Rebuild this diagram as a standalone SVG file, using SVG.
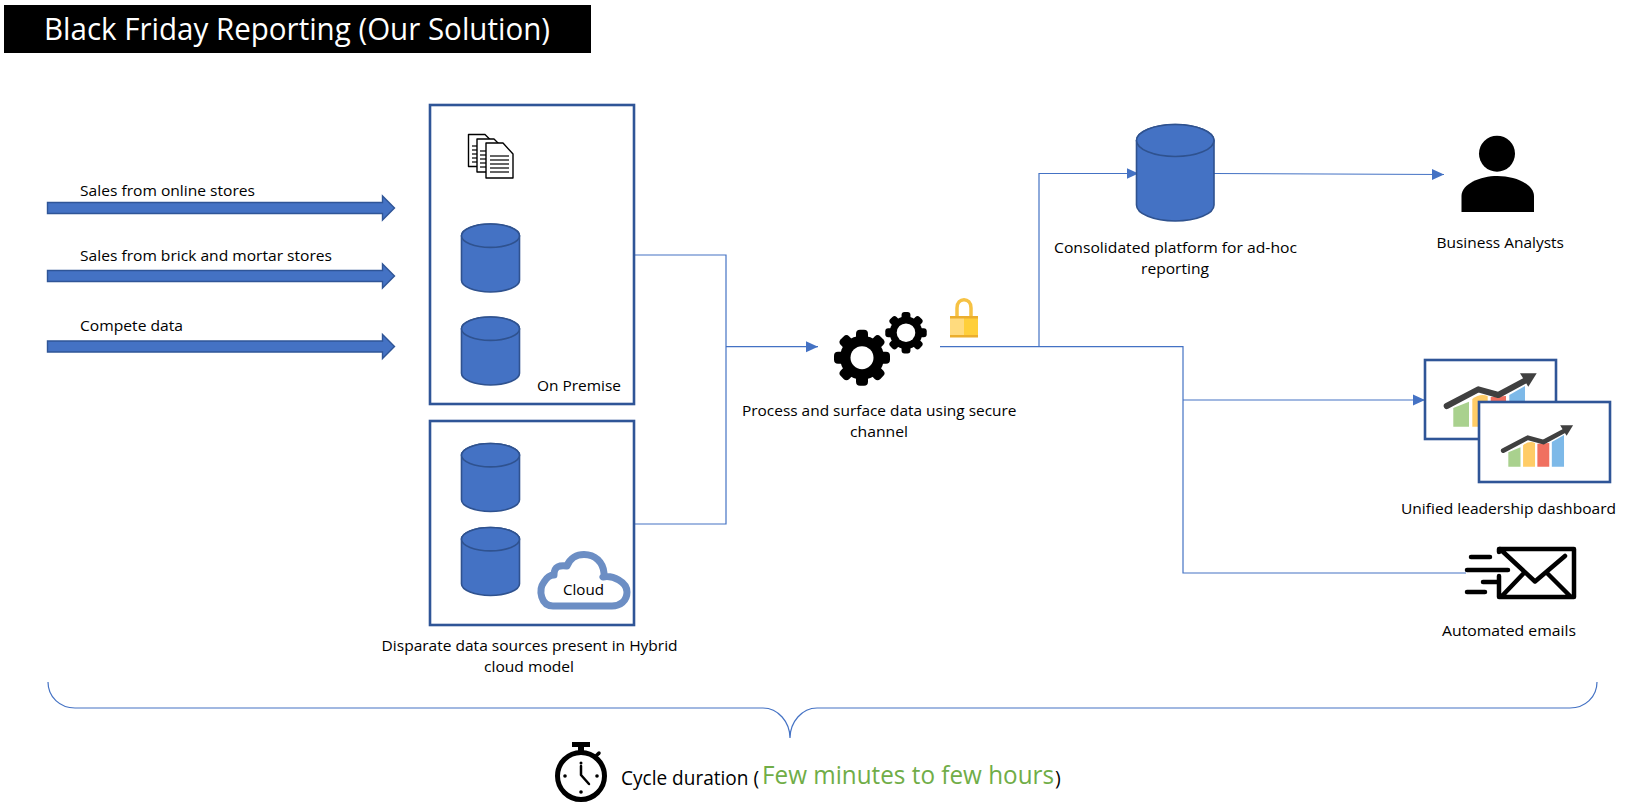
<svg xmlns="http://www.w3.org/2000/svg" width="1628" height="805" viewBox="0 0 1628 805">
<style>
text{font-family:"Open Sans","Noto Sans","Liberation Sans",sans-serif;fill:#000;font-size:15.200px}
.c{fill:none;stroke:#4472C4;stroke-width:1.2}
.box{fill:#fff;stroke:#2F5597;stroke-width:2.6}
.cyl{fill:#4472C4;stroke:#2F528F;stroke-width:1.6}
.arr{fill:#4472C4;stroke:#2F5597;stroke-width:1.4}
.k{fill:none;stroke:#000;stroke-linecap:round;stroke-linejoin:round}
.doc{fill:#fff;stroke:#000;stroke-width:1.4;stroke-linejoin:round}
.ln{stroke:#333;stroke-width:1.6}
</style>
<defs>
<marker id="ah" markerUnits="userSpaceOnUse" markerWidth="12" markerHeight="12" refX="12" refY="6" orient="auto"><path d="M0 0.5L12 6L0 11.5Z" fill="#4472C4"/></marker>
<g id="cy"><path class="cyl" d="M0 11.700V56.300A29 11.700 0 0 0 58 56.300V11.700A29 11.700 0 0 0 0 11.700Z"/><ellipse class="cyl" cx="29" cy="11.700" rx="29" ry="11.700"/></g>
<g id="gear"><circle r="22"/><rect x="-6" y="-28" width="12" height="14" rx="4"/><rect x="-6" y="-28" width="12" height="14" rx="4" transform="rotate(45)"/><rect x="-6" y="-28" width="12" height="14" rx="4" transform="rotate(90)"/><rect x="-6" y="-28" width="12" height="14" rx="4" transform="rotate(135)"/><rect x="-6" y="-28" width="12" height="14" rx="4" transform="rotate(180)"/><rect x="-6" y="-28" width="12" height="14" rx="4" transform="rotate(225)"/><rect x="-6" y="-28" width="12" height="14" rx="4" transform="rotate(270)"/><rect x="-6" y="-28" width="12" height="14" rx="4" transform="rotate(315)"/></g>
<g id="chart">
<path fill="#A9D18E" d="M1453.300 408L1469 401.700V426.700H1453.300Z"/>
<path fill="#FFCC66" d="M1472.300 399Q1480 393 1487.700 396V426.700H1472.300Z"/>
<path fill="#F07060" d="M1490.700 397L1506 396V426.700H1490.700Z"/>
<path fill="#7DB9E8" d="M1509.300 395L1525 386V426.700H1509.300Z"/>
<path fill="none" stroke="#404040" stroke-width="6" stroke-linecap="round" stroke-linejoin="round" d="M1446.700 406L1478.300 389.300L1498.300 395L1525 380.700"/>
<path fill="#404040" d="M1536.700 373.300H1520L1528.300 386.700Z"/>
</g>
</defs>

<g id="title"><rect x="4" y="5" width="587" height="48" fill="#000"/><text x="44" y="40" style="font-size:30.500px;fill:#fff" textLength="506" lengthAdjust="spacingAndGlyphs">Black Friday Reporting (Our Solution)</text></g>

<g id="connectors">
<path class="c" d="M634 255H726V524H634"/>
<path class="c" marker-end="url(#ah)" d="M726 346.700H818"/>
<path class="c" d="M940 346.700H1183V573H1466"/>
<path class="c" marker-end="url(#ah)" d="M1039 346.700V173.500H1138.500"/>
<path class="c" marker-end="url(#ah)" d="M1183 400H1425"/>
<path class="c" marker-end="url(#ah)" d="M1214 173.500L1444 174.500"/>
</g>

<g id="input-online"><text x="80" y="196" textLength="175" lengthAdjust="spacingAndGlyphs">Sales from online stores</text><path class="arr" d="M47.500 202.500H382.500V196L394.500 208L382.500 220V213.500H47.500Z"/></g>
<g id="input-brick"><text x="80" y="261" textLength="252" lengthAdjust="spacingAndGlyphs">Sales from brick and mortar stores</text><path class="arr" d="M47.500 270.500H382.500V264L394.500 276L382.500 288V281.500H47.500Z"/></g>
<g id="input-compete"><text x="80" y="331" textLength="103" lengthAdjust="spacingAndGlyphs">Compete data</text><path class="arr" d="M47.500 341H382.500V334.500L394.500 346.500L382.500 358.500V352H47.500Z"/></g>

<g id="on-premise">
<rect class="box" x="430" y="105" width="204" height="299"/>
<g id="docs">
<path class="doc" d="M468.500 134.500H485L492 141.500V166.500H468.500Z"/>
<path class="ln" d="M472 146H480M472 150H480M472 154H480M472 158H480M472 162H480"/>
<path class="doc" d="M477 139H494L501 146V172H477Z"/>
<path class="ln" d="M480 151H489M480 155H489M480 159H489M480 163H489M480 167H489"/>
<path class="doc" d="M486 143H503L513 154V178H486Z"/>
<path class="ln" d="M490 156H509M490 160H509M490 164H509M490 168H509M490 172H509"/>
</g>
<use href="#cy" x="461.500" y="224"/>
<use href="#cy" x="461.500" y="317"/>
<text x="537" y="391" textLength="84" lengthAdjust="spacingAndGlyphs">On Premise</text>
</g>

<g id="cloud-box">
<rect class="box" x="430" y="421" width="204" height="204"/>
<use href="#cy" x="461.500" y="443.500"/>
<use href="#cy" x="461.500" y="527.500"/>
<path fill="#fff" stroke="#6C8EC4" stroke-width="7" stroke-linejoin="round" d="M553 606C541 606 538 590 544 582C547 577 551 575 554 575C554 566 560 565 567 566C570 558 577 554.500 584 554.500C595 554.500 603 562 604 573C604 575 604 576 603 577C613 575 627 582 627 592C627 601 620 606 612 606Z"/>
<text x="563" y="595" textLength="41" lengthAdjust="spacingAndGlyphs">Cloud</text>
</g>
<text id="sources-label"><tspan x="381.600" y="651" textLength="296" lengthAdjust="spacingAndGlyphs">Disparate data sources present in Hybrid</tspan><tspan x="484" y="672" textLength="90" lengthAdjust="spacingAndGlyphs">cloud model</tspan></text>

<g id="process">
<use href="#gear" transform="translate(862 357.700)"/><circle cx="862" cy="357.700" r="11.500" fill="#fff"/>
<use href="#gear" transform="translate(906 332.700) scale(.74)"/><circle cx="906" cy="332.700" r="9.300" fill="#fff"/>
<text><tspan x="742" y="416" textLength="274.500" lengthAdjust="spacingAndGlyphs">Process and surface data using secure</tspan><tspan x="850" y="437" textLength="58" lengthAdjust="spacingAndGlyphs">channel</tspan></text>
</g>

<g id="lock">
<path fill="none" stroke="#F6C244" stroke-width="3.500" d="M957 317V308C957 297 971 297 971 308V317"/>
<rect x="950" y="316" width="14" height="21" fill="#FFDB7E"/><rect x="964" y="316" width="14" height="21" fill="#FFCF3A"/>
<rect x="950" y="316" width="28" height="2.500" fill="#EBAE2E"/><rect x="950" y="335" width="28" height="2.500" fill="#EBAE2E"/>
</g>

<g id="platform">
<path class="cyl" d="M1136.500 140.500V205A38.700 16 0 0 0 1214 205V140.500A38.700 16 0 0 0 1136.500 140.500Z"/>
<ellipse class="cyl" cx="1175.250" cy="140.500" rx="38.750" ry="16"/>
<text><tspan x="1054" y="253" textLength="243" lengthAdjust="spacingAndGlyphs">Consolidated platform for ad-hoc</tspan><tspan x="1141" y="274" textLength="68" lengthAdjust="spacingAndGlyphs">reporting</tspan></text>
</g>

<g id="analysts">
<ellipse cx="1497" cy="153.700" rx="18" ry="18"/>
<path d="M1461.500 212V196C1461.500 184 1480 176 1497.500 176C1515 176 1534 184 1534 196V212Z"/>
<text x="1436.500" y="248" textLength="127.500" lengthAdjust="spacingAndGlyphs">Business Analysts</text>
</g>

<g id="dashboard">
<rect class="box" x="1425" y="360" width="131" height="79"/>
<use href="#chart"/>
<rect class="box" x="1479" y="402" width="131" height="80"/>
<use href="#chart" transform="translate(379.100 135.200) scale(.777)"/>
<text x="1401" y="514" textLength="215" lengthAdjust="spacingAndGlyphs">Unified leadership dashboard</text>
</g>

<g id="emails">
<path class="k" stroke-width="4.500" d="M1499 552V549H1574V597H1499V576M1500 549L1535 581.500L1565 556M1502 596L1523 574M1570 596L1547 573"/>
<path class="k" stroke-width="4.500" d="M1471 557H1490M1467 570H1508M1483 582H1498M1467 592H1485"/>
<text x="1442" y="636" textLength="134" lengthAdjust="spacingAndGlyphs">Automated emails</text>
</g>

<g id="brace"><path fill="none" stroke="#4472C4" stroke-width="1.200" d="M48 682C48 697 60 708 75 708H763C778 708 790 722 790 738C790 722 802 708 817 708H1570C1585 708 1597 697 1597 682"/></g>

<g id="cycle">
<circle class="k" cx="581" cy="776" r="23.500" stroke-width="5"/>
<path d="M572 742H590V747H584V752H578V747H572Z"/>
<path class="k" stroke-width="3.500" d="M595 757L599 753"/>
<path class="k" stroke-width="2.500" d="M581 766V775L589 784"/>
<circle cx="581" cy="763" r="1.500"/><circle cx="581" cy="792" r="1.800"/><circle cx="565" cy="776" r="1.800"/><circle cx="597" cy="776" r="1.800"/>
<text x="621" y="785" style="font-size:19.500px" textLength="138" lengthAdjust="spacingAndGlyphs">Cycle duration (</text>
<text transform="translate(762 784) scale(.92 1)" style="font-size:25px;fill:#70AD47" textLength="317.400" lengthAdjust="spacingAndGlyphs">Few minutes to few hours</text>
<text x="1055" y="785" style="font-size:19.500px">)</text>
</g>
</svg>
